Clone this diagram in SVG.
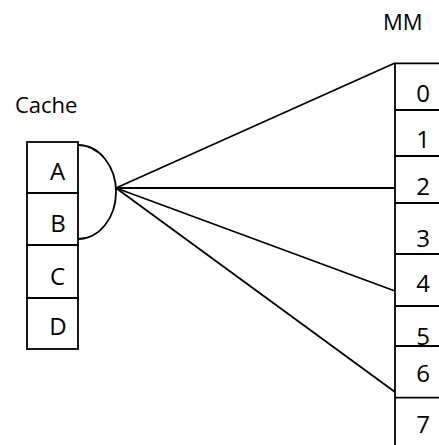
<svg xmlns="http://www.w3.org/2000/svg" width="439" height="445" viewBox="0 0 439 445">
<style>
.ln{stroke:#000;stroke-width:1.8;fill:none}
.lbl{font-family:"Open Sans","Liberation Sans",sans-serif;font-size:22px;fill:#000}
.cell{font-family:"Open Sans","Liberation Sans",sans-serif;font-size:24px;fill:#000;text-anchor:middle}
</style>
<rect width="439" height="445" fill="#fff"/>
<text class="lbl" x="15" y="112.5">Cache</text>
<text class="lbl" x="383" y="29.5">MM</text>
<g id="cache">
<g id="cacheA"><rect class="ln" x="27" y="142" width="51" height="51"/><text class="cell" x="57.5" y="179.5">A</text></g>
<g id="cacheB"><rect class="ln" x="27" y="193" width="51" height="52"/><text class="cell" x="58" y="231.5">B</text></g>
<g id="cacheC"><rect class="ln" x="27" y="245" width="51" height="53"/><text class="cell" x="57.5" y="285">C</text></g>
<g id="cacheD"><rect class="ln" x="27" y="298" width="51" height="51"/><text class="cell" x="58" y="335">D</text></g>
</g>
<g id="mm">
<path class="ln" d="M395,63 V445"/>
<g id="mm0"><path class="ln" d="M395,63.3 H439"/><text class="cell" x="423" y="102.3">0</text></g>
<g id="mm1"><path class="ln" d="M395,110 H439"/><text class="cell" x="423" y="148">1</text></g>
<g id="mm2"><path class="ln" d="M395,156 H439"/><text class="cell" x="423" y="195">2</text></g>
<g id="mm3"><path class="ln" d="M395,203 H439"/><text class="cell" x="423" y="246.7">3</text></g>
<g id="mm4"><path class="ln" d="M395,254 H439"/><text class="cell" x="423" y="291.7">4</text></g>
<g id="mm5"><path class="ln" d="M395,306 H439"/><text class="cell" x="423" y="345">5</text></g>
<g id="mm6"><path class="ln" d="M395,346 H439"/><text class="cell" x="423" y="381.7">6</text></g>
<g id="mm7"><path class="ln" d="M395,397.7 H439"/><text class="cell" x="423" y="433">7</text></g>
</g>
<g id="connectors">
<path class="ln" d="M78,145 A38,47 0 0 1 78,239"/>
<path class="ln" d="M116,188 L395,63"/>
<path class="ln" d="M116,188 L395,188"/>
<path class="ln" d="M116,188 L395,291"/>
<path class="ln" d="M116,188 L395,392"/>
</g>
</svg>
